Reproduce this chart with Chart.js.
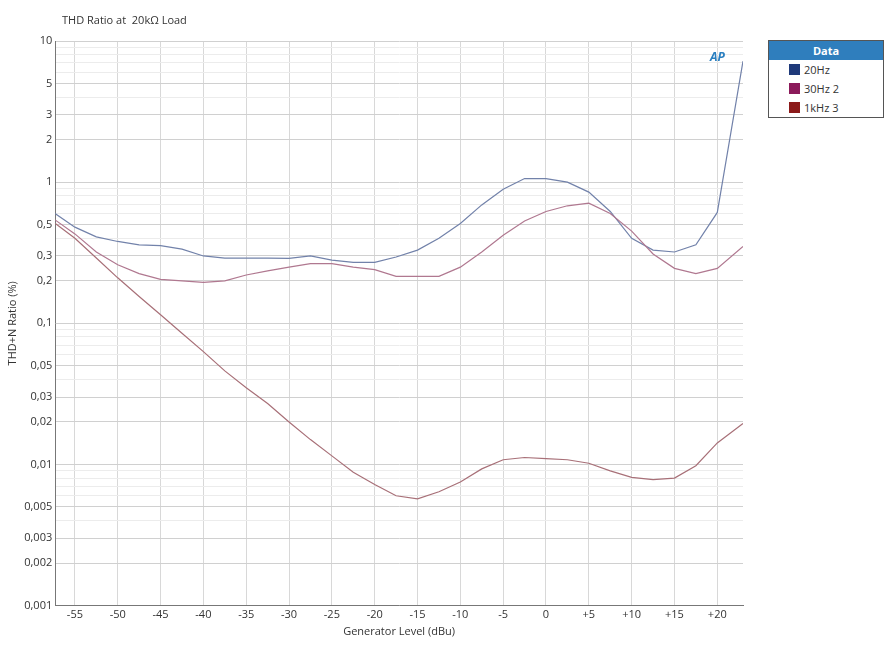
<!DOCTYPE html>
<html>
<head>
<meta charset="utf-8">
<script src="https://cdn.jsdelivr.net/npm/chart.js@4"></script>
<style>
  body { margin: 0; background: #fff; font-family: "Open Sans", sans-serif; }
  #wrap { position: relative; width: 887px; height: 645px; }
  #title { position: absolute; left: 62px; top: 12px; font-size: 11px; color: #333; }
  #logo { position: absolute; left: 710px; top: 48px; font: italic bold 12px "Open Sans"; color: #2a7fc0; }
  #legend { position: absolute; left: 768px; top: 40px; width: 114px; border: 1px solid #555; font-size: 11px; background: #fff; }
  #legend .hd { background: #2f7ebd; color: #fff; text-align: center; font-weight: bold; padding: 2px 0; }
  #legend .row { padding: 2px 0 2px 20px; color: #333; display: flex; align-items: center; }
  #legend .sw { width: 11px; height: 11px; margin-right: 4px; }
</style>
</head>
<body>
<div id="wrap">
  <canvas id="c" width="887" height="645"></canvas>
  <div id="title">THD Ratio at&nbsp; 20kΩ Load</div>
  <div id="logo">AP</div>
  <div id="legend">
    <div class="hd">Data</div>
    <div class="row"><span class="sw" style="background:#1f3a7a"></span>20Hz</div>
    <div class="row"><span class="sw" style="background:#8b1a5a"></span>30Hz 2</div>
    <div class="row"><span class="sw" style="background:#8b1a1a"></span>1kHz 3</div>
  </div>
</div>
<script>
const levels = [-57.5, -55, -52.5, -50, -47.5, -45, -42.5, -40, -37.5, -35, -32.5, -30, -27.5, -25, -22.5, -20,
  -17.5, -15, -12.5, -10, -7.5, -5, -2.5, 0, 2.5, 5, 7.5, 10, 12.5, 15, 17.5, 20, 23];
const thd20Hz = [0.61, 0.48, 0.41, 0.38, 0.36, 0.355, 0.335, 0.30, 0.29, 0.29, 0.29, 0.288, 0.30, 0.28, 0.27, 0.27,
  0.295, 0.33, 0.40, 0.51, 0.69, 0.89, 1.06, 1.06, 1.0, 0.85, 0.62, 0.40, 0.33, 0.32, 0.36, 0.61, 7.2];
const thd30Hz = [0.55, 0.43, 0.32, 0.26, 0.225, 0.205, 0.2, 0.195, 0.2, 0.22, 0.235, 0.25, 0.265, 0.265, 0.25, 0.24,
  0.215, 0.215, 0.215, 0.25, 0.32, 0.42, 0.53, 0.62, 0.68, 0.71, 0.60, 0.45, 0.31, 0.245, 0.225, 0.245, 0.35];
const thd1kHz = [0.52, 0.40, 0.29, 0.21, 0.155, 0.115, 0.085, 0.063, 0.046, 0.035, 0.027, 0.020, 0.015, 0.0115, 0.0088, 0.0072,
  0.006, 0.0057, 0.0064, 0.0075, 0.0093, 0.0108, 0.0112, 0.011, 0.0108, 0.0102, 0.009, 0.0081, 0.0078, 0.008, 0.0098, 0.0142, 0.0195];
const yLabels = [10, 5, 3, 2, 1, 0.5, 0.3, 0.2, 0.1, 0.05, 0.03, 0.02, 0.01, 0.005, 0.003, 0.002, 0.001];
const xTicks = [-55, -50, -45, -40, -35, -30, -25, -20, -15, -10, -5, 0, 5, 10, 15, 20];

const yGrid = [];
[0.001, 0.01, 0.1, 1].forEach(d => { for (let m = 1; m < 10; m++) yGrid.push(+(d * m).toPrecision(3)); });
yGrid.push(10);

const mk = (label, data, color) => ({
  label, data: levels.map((x, i) => ({ x, y: data[i] })),
  borderColor: color, borderWidth: 1.2, pointRadius: 0, tension: 0
});

new Chart(document.getElementById('c'), {
  type: 'line',
  data: {
    datasets: [
      mk('1kHz 3', thd1kHz, '#a87078'),
      mk('30Hz 2', thd30Hz, '#b07890'),
      mk('20Hz', thd20Hz, '#7282aa')
    ]
  },
  options: {
    responsive: false,
    animation: false,
    layout: { padding: { top: 41, right: 144, bottom: 7, left: 4 } },
    plugins: { legend: { display: false }, tooltip: { enabled: false } },
    scales: {
      x: {
        type: 'linear', min: -57.3, max: 23,
        afterBuildTicks: ax => { ax.ticks = xTicks.map(v => ({ value: v })); },
        ticks: { font: { size: 11, family: 'Open Sans' }, color: '#333', maxRotation: 0,
          callback: v => v > 0 ? '+' + v : String(v) },
        grid: { color: '#d8d8d8', drawTicks: false },
        border: { color: '#777' },
        title: { display: true, text: 'Generator Level (dBu)', font: { size: 11, family: 'Open Sans' }, color: '#333', padding: 0 }
      },
      y: {
        type: 'logarithmic', min: 0.001, max: 10,
        afterBuildTicks: ax => { ax.ticks = yGrid.map(v => ({ value: v })); },
        ticks: { font: { size: 11, family: 'Open Sans' }, color: '#333', autoSkip: false,
          callback: v => yLabels.includes(v) ? String(v).replace('.', ',') : '' },
        grid: { color: ctx => (ctx.tick && yLabels.includes(ctx.tick.value)) ? '#d0d0d0' : '#ececec', drawTicks: false },
        border: { color: '#777' },
        title: { display: true, text: 'THD+N Ratio (%)', font: { size: 11, family: 'Open Sans' }, color: '#333', padding: 2 }
      }
    }
  }
});
</script>
</body>
</html>
